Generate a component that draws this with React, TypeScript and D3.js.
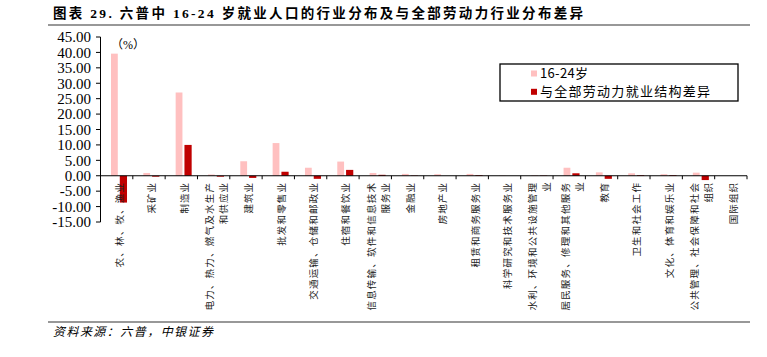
import React from "react";
import * as d3 from "d3";

const categories: string[][] = [
  ["农、林、牧、渔业"],
  ["采矿业"],
  ["制造业"],
  ["电力、热力、燃气及水生产", "和供应业"],
  ["建筑业"],
  ["批发和零售业"],
  ["交通运输、仓储和邮政业"],
  ["住宿和餐饮业"],
  ["信息传输、软件和信息技术", "服务业"],
  ["金融业"],
  ["房地产业"],
  ["租赁和商务服务业"],
  ["科学研究和技术服务业"],
  ["水利、环境和公共设施管理", "业"],
  ["居民服务、修理和其他服务", "业"],
  ["教育"],
  ["卫生和社会工作"],
  ["文化、体育和娱乐业"],
  ["公共管理、社会保障和社会", "组织"],
  ["国际组织"],
];

const youthShare: number[] = [39.6, 0.9, 27.0, 0.4, 4.7, 10.6, 2.6, 4.6, 0.9, 0.6, 0.5, 0.6, 0.1, 0.2, 2.6, 1.1, 0.8, 0.5, 1.0, 0.0];
const diffShare: number[] = [-8.7, -0.3, 10.0, -0.3, -0.7, 1.3, -1.0, 1.9, 0.3, 0.1, 0.0, 0.2, 0.0, 0.1, 0.8, -1.0, 0.2, 0.2, -1.4, 0.0];

const yTicks: number[] = [45, 40, 35, 30, 25, 20, 15, 10, 5, 0, -5, -10, -15];

const seriesNames: string[] = ["16-24岁", "与全部劳动力就业结构差异"];
const colors = ["#FFC0C0", "#C00000"];

const W = 767;
const H = 357;

export default function App() {
  const keys = categories.map((_, i) => String(i));
  const x = d3.scaleBand<string>().domain(keys).range([100.5, 747]).padding(0);
  const y = d3.scaleLinear().domain([-15, 45]).range([222, 37]);
  const bw = x.bandwidth();
  const y0 = y(0);
  const serif = "'Liberation Serif', 'Noto Sans CJK SC', serif";
  const cjk = "'Noto Sans CJK SC', sans-serif";

  return (
    <svg width={W} height={H} style={{ position: "absolute", left: 0, top: 0, background: "#fff" }}>
      {/* title */}
      <text x={53} y={18} fontFamily={serif} fontWeight="bold" fontSize={13.5} textLength={530} lengthAdjust="spacing" fill="#000">
        图表 29. 六普中 16-24 岁就业人口的行业分布及与全部劳动力行业分布差异
      </text>
      <line x1={48} x2={750} y1={25} y2={25} stroke="#333" strokeWidth={1.2} />

      {/* bars */}
      {youthShare.map((v, i) => (
        <rect key={"p" + i} x={(x(String(i)) as number) + bw * 0.325} width={bw * 0.21}
          y={Math.min(y(v), y0)} height={Math.abs(y(v) - y0)} fill={colors[0]} />
      ))}
      {diffShare.map((v, i) => (
        <rect key={"r" + i} x={(x(String(i)) as number) + bw * 0.597} width={bw * 0.223}
          y={Math.min(y(v), y0)} height={Math.abs(y(v) - y0)} fill={colors[1]} />
      ))}

      {/* y axis */}
      <line x1={100.5} x2={100.5} y1={37} y2={222} stroke="#000" strokeWidth={1} />
      {yTicks.map((t) => (
        <g key={"yt" + t}>
          <line x1={96} x2={100.5} y1={y(t)} y2={y(t)} stroke="#000" strokeWidth={1} />
          <text x={91} y={y(t)} dy="0.35em" textAnchor="end" fontFamily={serif} fontSize={15} fill="#000">
            {t.toFixed(2)}
          </text>
        </g>
      ))}
      <text x={111} y={49} fontFamily={serif} fontSize={12} fill="#000">（%）</text>

      {/* x axis */}
      <line x1={100.5} x2={747} y1={y0} y2={y0} stroke="#000" strokeWidth={1} />
      {keys.concat(["end"]).map((k, i) => {
        const xx = 100.5 + i * bw;
        return <line key={"xt" + i} x1={xx} x2={xx} y1={y0} y2={y0 + 3.5} stroke="#000" strokeWidth={1} />;
      })}
      {categories.map((lines, i) => {
        const cx = (x(String(i)) as number) + bw / 2 + 3;
        const n = lines.length;
        return lines.map((ln, j) => {
          const lx = cx + (j - (n - 1) / 2) * 14;
          const len = Array.from(ln).length;
          const L = len * 10.8 - 2;
          return (
            <text key={"xl" + i + "_" + j} transform={`translate(${lx},${183 + L}) rotate(-90)`} textAnchor="start"
              dy="0.35em" fontFamily={cjk} fontSize={9.5} textLength={L} lengthAdjust="spacing" fill="#222">
              {ln}
            </text>
          );
        });
      })}

      {/* legend */}
      <rect x={500} y={64} width={238} height={37} fill="#fff" stroke="#000" strokeWidth={1.3} />
      {seriesNames.map((s, i) => (
        <g key={"lg" + i}>
          <rect x={531} y={70.5 + i * 18.3} width={6} height={6} fill={colors[i]} />
          <text x={540} y={73.5 + i * 18.3} dy="0.35em" fontFamily={cjk} fontSize={13}
            textLength={i === 0 ? 48 : 170} lengthAdjust="spacing" fill="#000">
            {s}
          </text>
        </g>
      ))}

      {/* footer */}
      <line x1={48} x2={750} y1={322} y2={322} stroke="#333" strokeWidth={1.2} />
      <text x={53} y={336} fontFamily={cjk} fontStyle="italic" fontSize={12} textLength={160} lengthAdjust="spacing" fill="#000">
        资料来源：六普，中银证券
      </text>
    </svg>
  );
}
